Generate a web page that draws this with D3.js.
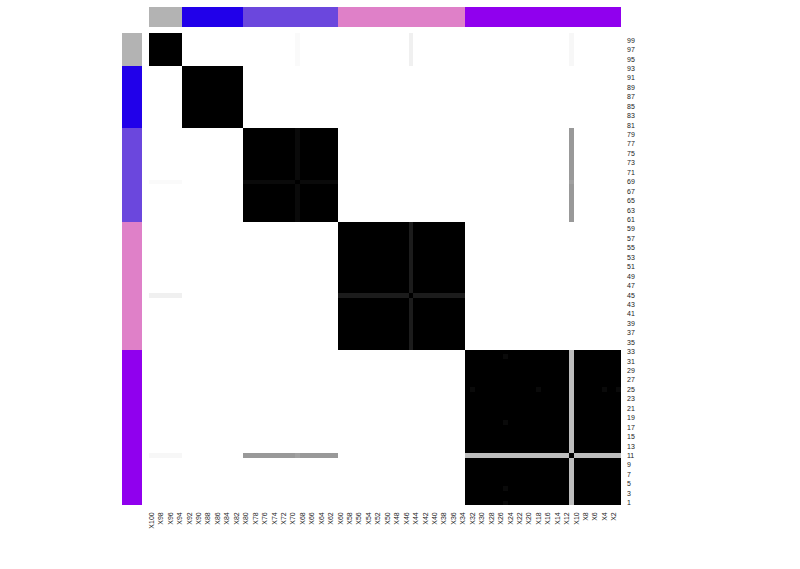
<!DOCTYPE html>
<html>
<head>
<meta charset="utf-8">
<script src="https://cdn.jsdelivr.net/npm/d3@7"></script>
<style>
  body { margin: 0; background: #fff; }
  svg { display: block; }
  .tick text { font-family: "Liberation Sans", Arial, sans-serif; font-size: 7px; fill: #222; }
</style>
</head>
<body>
<svg id="chart" width="800" height="569"></svg>
<script>
// ---- data ----
const itemIds = d3.range(100, 0, -1);            // display order: 100 ... 1
const groupNames = ["1", "2", "3", "4", "5"];
const groupFirst = [94, 81, 61, 34, 1];
const groupLast = [100, 93, 80, 60, 33];
const groupColors = ["#b3b3b3", "#2100ea", "#6b47dd", "#df80c8", "#9000ee"];
// consensus of one item with all members of a group
const softItem = [11, 11, 11, 45, 45, 69, 69];
const softGroup = [5, 3, 1, 4, 1, 3, 1];
const softValue = [0.26, 0.40, 0.03, 0.89, 0.06, 0.96, 0.02];
// consensus of specific item pairs
const pairA = [11, 25, 25, 25, 25];
const pairB = [69, 32, 18, 4, 1];
const pairValue = [0.37, 0.96, 0.96, 0.96, 0.96];
const rowTickLabels = d3.range(1, 100, 2);
const colTickLabels = d3.range(100, 1, -2).map(d => "X" + d);

// ---- build matrix ----
function groupOf(id) {
  for (let g = 0; g < groupNames.length; g++)
    if (id >= groupFirst[g] && id <= groupLast[g]) return g + 1;
  return 0;
}
function consensus(a, b) {
  if (a === b) return 1;
  for (let k = 0; k < pairA.length; k++)
    if ((pairA[k] === a && pairB[k] === b) || (pairA[k] === b && pairB[k] === a)) return pairValue[k];
  for (let k = 0; k < softItem.length; k++) {
    if (softItem[k] === a && softGroup[k] === groupOf(b)) return softValue[k];
    if (softItem[k] === b && softGroup[k] === groupOf(a)) return softValue[k];
  }
  return groupOf(a) === groupOf(b) ? 1 : 0;
}
const cells = [];
itemIds.forEach(r => itemIds.forEach(c => cells.push({ r, c, v: consensus(r, c) })));

// ---- scales ----
const svg = d3.select("#chart");
const x = d3.scaleBand().domain(itemIds.map(d => "X" + d)).range([149, 621]);
const y = d3.scaleBand().domain(itemIds).range([33.3, 505.3]);
const color = d3.scaleLinear().domain([0, 1]).range(["#ffffff", "#000000"]);
const annColor = d3.scaleOrdinal().domain(d3.range(1, 6)).range(groupColors);

// heatmap
svg.append("g").selectAll("rect").data(cells).join("rect")
  .attr("x", d => x("X" + d.c))
  .attr("y", d => y(d.r))
  .attr("width", x.bandwidth())
  .attr("height", y.bandwidth())
  .attr("fill", d => color(d.v))
  .attr("shape-rendering", "crispEdges");

// top annotation
svg.append("g").selectAll("rect").data(itemIds).join("rect")
  .attr("x", d => x("X" + d))
  .attr("y", 7)
  .attr("width", x.bandwidth())
  .attr("height", 20)
  .attr("fill", d => annColor(groupOf(d)))
  .attr("shape-rendering", "crispEdges");

// left annotation
svg.append("g").selectAll("rect").data(itemIds).join("rect")
  .attr("x", 122)
  .attr("y", d => y(d))
  .attr("width", 20)
  .attr("height", y.bandwidth())
  .attr("fill", d => annColor(groupOf(d)))
  .attr("shape-rendering", "crispEdges");

// right axis (row labels)
const yAxis = svg.append("g")
  .attr("transform", "translate(621,0)")
  .call(d3.axisRight(y).tickValues(rowTickLabels).tickSize(0).tickPadding(6));
yAxis.select(".domain").remove();

// bottom axis (column labels)
const xAxis = svg.append("g")
  .attr("transform", "translate(0,505.3)")
  .call(d3.axisBottom(x).tickValues(colTickLabels).tickSize(0));
xAxis.select(".domain").remove();
xAxis.selectAll("text")
  .attr("transform", "rotate(-90)")
  .attr("x", -7)
  .attr("y", 0)
  .attr("dy", "0.35em")
  .style("text-anchor", "end");
</script>
</body>
</html>
